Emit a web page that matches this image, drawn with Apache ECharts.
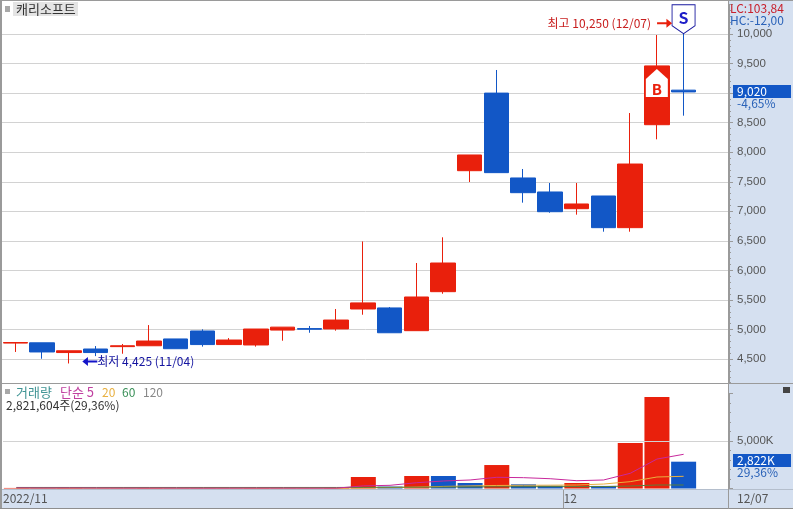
<!DOCTYPE html>
<html>
<head>
<meta charset="utf-8">
<style>
  html, body { margin: 0; padding: 0; background: #fff; }
  #chart { width: 793px; height: 509px; }
</style>
<script src="https://cdn.jsdelivr.net/npm/echarts@6/dist/echarts.min.js"></script>
</head>
<body>
<div id="chart"></div>
<script>
// 2022-11-02 ~ 2022-12-07 일봉
var dates = ['11/02','11/03','11/04','11/07','11/08','11/09','11/10','11/11','11/14','11/15','11/16','11/17','11/18',
  '11/21','11/22','11/23','11/24','11/25','11/28','11/29','11/30','12/01','12/02','12/05','12/06','12/07']
var opens = [4770,4775,4610,4670,4710,4725,4840,4975,4745,4738,4990,5015,5010,5347,5365,4980,5640,7687,9000,7564,7327,7044,7259,6723,8465,9050]
var closes = [4780,4620,4640,4610,4725,4805,4675,4745,4822,5008,5040,5005,5160,5450,4945,5550,6125,7953,7654,7315,6993,7124,6723,7800,9460,9020]
var lows = [4620,4505,4425,4550,4590,4725,4675,4710,4745,4710,4810,4945,4980,5250,4945,4980,5605,7496,7654,7146,6976,6943,6655,6655,8218,8618]
var highs = [4785,4775,4640,4720,4755,5075,4840,5003,4855,5008,5040,5060,5347,6490,5380,6125,6560,7953,9391,7716,7479,7479,7259,8663,9983,10250]
var volumes = [60,40,70,30,30,60,40,40,30,50,40,25,60,1210,200,1315,1315,580,2470,440,300,580,270,4790,9630,2822]
var volumeUp = [1,0,1,0,0,1,0,0,0,1,0,0,1,1,0,1,0,0,1,0,0,1,0,1,1,0]
var ma5 = [60,50,55,50,46,46,46,40,40,44,44,37,41,275,335,610,790,895,1180,1140,1030,820,895,1600,3100,3600]
var ma20 = [20,20,20,20,20,20,20,20,20,20,20,20,30,60,90,150,220,270,320,340,350,370,470,720,1210,1284]
var ma60 = [110,110,110,110,110,110,110,110,110,110,110,110,110,120,130,140,155,170,180,190,195,200,205,260,370,370]
var monthLabelTicks = [-0.5, 20.5]
var monthLines = [20.5]
var monthLabels = ['2022/11', '12']

var RED = '#E9200C'
var BLUE = '#1257C6'
var PANEL = '#D5E0F0'
var GRAYLINE = '#9A9A9A'
var FONT = '"Noto Sans CJK KR", "Liberation Sans", sans-serif'

function indexed(arr) {
  return arr.map(function (v, i) { return [i, v] })
}

function txt(text, x, y, fill, size, z) {
  return {
    type: 'text', z: z || 10, x: x, y: y,
    style: { text: text, fill: fill, font: (size || 12) + 'px ' + FONT, verticalAlign: 'middle' }
  }
}

function box(x, y, w, h, fill, z) {
  return { type: 'rect', z: z === undefined ? -1 : z, shape: { x: x, y: y, width: w, height: h }, style: { fill: fill } }
}

var candles = dates.map(function (d, i) {
  return [i, opens[i], closes[i], lows[i], highs[i]]
})
var volumeBars = volumes.map(function (v, i) {
  return { value: [i, v], itemStyle: { color: volumeUp[i] ? RED : BLUE } }
})

var chart = echarts.init(document.getElementById('chart'), null, { renderer: 'canvas' })

var xBase = {
  type: 'value', min: -0.5, max: 26.7,
  axisLine: { show: false, onZero: false },
  axisTick: { show: false, customValues: monthLines },
  splitLine: { show: true, showMinLine: false, showMaxLine: false, lineStyle: { color: '#CFCFCF', width: 1 } }
}

chart.setOption({
  animation: false,
  backgroundColor: '#fff',
  textStyle: { fontFamily: FONT },
  grid: [
    { left: 2, right: 64, top: 4.45, height: 384.15 },
    { left: 2, right: 64, top: 393.5, height: 95 }
  ],
  xAxis: [
    Object.assign({}, xBase, { gridIndex: 0, axisLabel: { show: false, customValues: monthLines } }),
    Object.assign({}, xBase, {
      gridIndex: 1,
      axisLabel: {
        customValues: monthLabelTicks, margin: 4, color: '#555', fontSize: 12, align: 'left',
        showMinLabel: true, showMaxLabel: true,
        formatter: function (v) { return monthLabels[monthLabelTicks.indexOf(v)] }
      }
    })
  ],
  yAxis: [
    {
      gridIndex: 0, position: 'right', z: 0, min: 4000, max: 10500, interval: 500,
      axisLine: { show: true, onZero: false, lineStyle: { color: GRAYLINE } },
      axisTick: { show: true, length: 4, lineStyle: { color: GRAYLINE } },
      minorTick: { show: true, splitNumber: 5, length: 2, lineStyle: { color: GRAYLINE } },
      splitLine: { show: true, showMinLine: false, showMaxLine: false, lineStyle: { color: '#D2D2D2' } },
      axisLabel: {
        margin: 8, color: '#555', fontSize: 11.5, showMinLabel: false, showMaxLabel: false,
        fontFamily: '"Liberation Sans", sans-serif',
        formatter: function (v) { return v.toLocaleString('en-US') }
      }
    },
    {
      gridIndex: 1, position: 'right', z: 3, min: 0, max: 10000, interval: 5000,
      axisLine: { show: true, onZero: false, lineStyle: { color: GRAYLINE } },
      axisTick: { show: true, length: 4, lineStyle: { color: GRAYLINE } },
      minorTick: { show: true, splitNumber: 5, length: 2, lineStyle: { color: GRAYLINE } },
      splitLine: { show: true, showMinLine: false, showMaxLine: false, lineStyle: { color: '#D2D2D2' } },
      axisLabel: {
        margin: 8, color: '#555', fontSize: 11.5, showMinLabel: false, showMaxLabel: false,
        fontFamily: '"Liberation Sans", sans-serif',
        formatter: function (v) { return v.toLocaleString('en-US') + 'K' }
      }
    }
  ],
  series: [
    {
      type: 'candlestick', name: '캐리소프트', xAxisIndex: 0, yAxisIndex: 0,
      encode: { x: 0, y: [1, 2, 3, 4] },
      barWidth: 25,
      itemStyle: { color: RED, color0: BLUE, borderColor: RED, borderColor0: BLUE, borderWidth: 1 },
      data: candles,
      markPoint: {
        silent: true,
        data: [
          { // 매도 신호
            coord: [25, 10250], symbol: 'path://M0 0H24V21L12 29L0 21Z', symbolSize: [23, 29],
            itemStyle: { color: '#fff', borderColor: '#1A1AA0', borderWidth: 1 },
            label: { show: true, formatter: 'S', position: 'inside', color: '#1E1EC8', fontSize: 16, fontWeight: 'bold', offset: [0, -1] }
          },
          { // 매수 신호
            coord: [24, 9171], symbol: 'path://M0 10L11 0L22 10V28H0Z', symbolSize: [22, 28],
            itemStyle: { color: '#fff' },
            label: { show: true, formatter: 'B', position: 'inside', color: RED, fontSize: 15, fontWeight: 'bold', offset: [0, 6] }
          },
          { // 최고가
            coord: [25, 10250], symbol: 'path://M0 4H10V0L16 5L10 10V6H0Z', symbolSize: [15, 9], symbolOffset: [-19, 4],
            itemStyle: { color: RED },
            label: { show: true, formatter: '최고 10,250 (12/07)', position: 'left', distance: 6, color: '#C81E1E', fontSize: 12 }
          },
          { // 최저가
            coord: [2, 4425], symbol: 'path://M16 4H6V0L0 5L6 10V6H16Z', symbolSize: [15, 9], symbolOffset: [21, -2],
            itemStyle: { color: '#1414C8' },
            label: { show: true, formatter: '최저 4,425 (11/04)', position: 'right', distance: 0, color: '#1414A0', fontSize: 12 }
          }
        ]
      }
    },
    {
      type: 'bar', name: '거래량', xAxisIndex: 1, yAxisIndex: 1, barWidth: 25, data: volumeBars
    },
    { type: 'line', name: '20', xAxisIndex: 1, yAxisIndex: 1, clip: false, showSymbol: false, lineStyle: { color: '#E8B040', width: 1 }, data: indexed(ma20) },
    { type: 'line', name: '60', xAxisIndex: 1, yAxisIndex: 1, clip: false, showSymbol: false, lineStyle: { color: '#5A7F3A', width: 1 }, data: indexed(ma60) },
    { type: 'line', name: '5', xAxisIndex: 1, yAxisIndex: 1, showSymbol: false, lineStyle: { color: '#C8289C', width: 1 }, data: indexed(ma5) }
  ],
  graphic: [
    // 오른쪽/아래 패널
    box(729, 0, 64, 384, PANEL, -1),
    box(729, 384, 64, 106, PANEL, 1),
    box(0, 490, 793, 19, PANEL, -1),
    // 테두리
    box(0, 0, 793, 1, GRAYLINE, 9),
    box(0, 0, 2, 509, GRAYLINE, 9),
    box(0, 383, 793, 1, GRAYLINE, 9),
    box(2, 489, 791, 1, '#B4BECC', 9),
    box(0, 508, 793, 1, '#8E8E8E', 9),
    box(728, 0, 1, 509, GRAYLINE, 9),
    box(563, 490, 1, 18, GRAYLINE, 9),
    // 종목명
    box(5, 6, 5, 6, '#A8A8A8', 9),
    box(13, 2, 65, 14, '#E4E4E4', 9),
    txt('캐리소프트', 16, 9.5, '#333', 13),
    // 거래량 범례
    box(5, 389, 5, 5, '#A8A8A8', 9),
    txt('거래량', 16, 392, '#3F9494', 13),
    txt('단순 5', 60, 392, '#C040A0', 13),
    txt('20', 102, 392, '#E8B040'),
    txt('60', 122, 392, '#3A9058'),
    txt('120', 143, 392, '#888'),
    txt('2,821,604주(29,36%)', 6, 405, '#333'),
    // 오른쪽 표시
    txt('LC:103,84', 730, 8, '#C8202C'),
    txt('HC:-12,00', 730, 20, '#2A62B8'),
    box(733, 85, 58, 13, BLUE, 9),
    txt('9,020', 737, 91.5, '#fff'),
    txt('-4,65%', 737, 103, '#2A62B8'),
    box(733, 454, 58, 13, BLUE, 9),
    txt('2,822K', 737, 460.5, '#fff'),
    txt('29,36%', 737, 472, '#2A62B8'),
    txt('12/07', 737, 498, '#555'),
    box(783, 387, 7, 6, '#444', 9)
  ]
})
</script>
</body>
</html>
